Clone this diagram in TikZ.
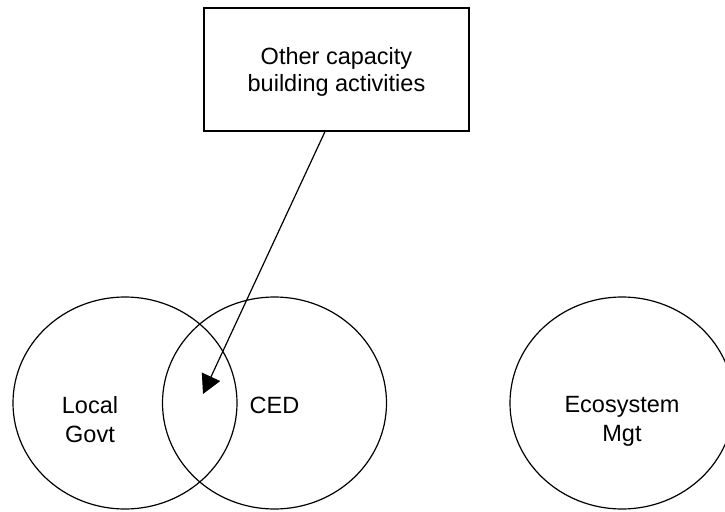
\documentclass[tikz,border=0pt]{standalone}
\usepackage{fontspec}
\setmainfont{Liberation Sans}
\usetikzlibrary{positioning,calc,arrows.meta,shapes.geometric}

\begin{document}
\begin{tikzpicture}[
  x = 1pt, y = -1pt,
  line width = 1.2pt,
  every node/.style = {font=\fontsize{23.5}{27}\selectfont},
  area/.style = {draw, ellipse, minimum width=224pt, minimum height=212pt},
  tag/.style = {anchor=north, inner sep=0pt, align=center,
    font=\fontsize{23.5}{28.5}\selectfont},
  ]
  \useasboundingbox (0,0) rectangle (725,511);

  \node[draw, align=center, minimum width=265pt, minimum height=123pt,
    text depth=0pt] (box) at (336.5,69.5) {Other capacity\\building activities};

  \node[area] (govt) at (125,403) {};
  \node[area] (ced) at (274.5,403) {};
  \node[area] (eco) at (622,403) {};

  \node[tag] (govtText) at (90,396) {Local\\Govt};
  \node[tag] (cedText) at (274.5,396) {CED};
  \node[tag] (ecoText) at (622,396) {Ecosystem\\Mgt};

  \coordinate (tip) at (203,394);
  \draw[-{Triangle[length=19pt,width=20pt]}]
  ([xshift=-11.5pt]box.south) -- (tip);
\end{tikzpicture}
\end{document}
